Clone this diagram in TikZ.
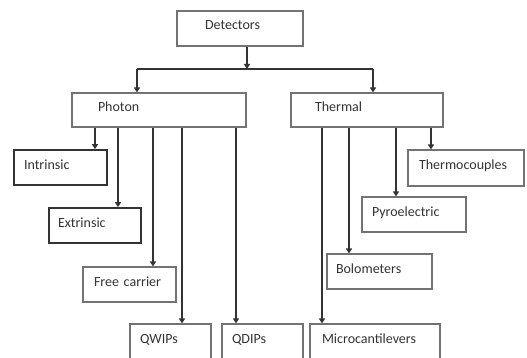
\documentclass[tikz,border=0pt]{standalone}
\usepackage{fontspec}
\setmainfont{Carlito}
\usetikzlibrary{arrows.meta}
\tikzset{
  box/.style={draw=black!55, line width=1.1pt, rectangle, inner ysep=0pt,
    align=left, text=black!80, text depth=6pt, font=\fontsize{14}{16}\selectfont},
  boldbox/.style={box, draw=black!80, line width=1.7pt},
  arr/.style={draw=black!80, line width=1.3pt, -{Triangle[length=5pt,width=6pt]}},
  conn/.style={draw=black!80, line width=1.3pt}
}
\begin{document}
\begin{tikzpicture}[x=1pt,y=-1pt]
\useasboundingbox (0,0) rectangle (527,358);
\clip (0,0) rectangle (527,358);
% boxes
\node[box, inner xsep=28pt, text width=70pt, minimum height=35pt] (det) at (240,28.5) {Detectors};
\node[box, inner xsep=26pt, text width=122pt, minimum height=34pt] (photon) at (159,110) {Photon};
\node[box, inner xsep=24pt, text width=104pt, minimum height=34pt] (thermal) at (367,110) {Thermal};
\node[boldbox, inner xsep=10pt, text width=73pt, minimum height=35pt] (intr) at (60.5,167.5) {Intrinsic};
\node[boldbox, inner xsep=9pt, text width=74pt, minimum height=35pt] (extr) at (95,225.5) {Extrinsic};
\node[box, inner xsep=11pt, text width=71pt, minimum height=35pt] (free) at (129.5,284.5) {Free carrier};
\node[box, inner xsep=10pt, text width=61pt, minimum height=35pt] (qwip) at (170.5,341.5) {QWIPs};
\node[box, inner xsep=10pt, text width=61pt, minimum height=35pt] (qdip) at (262.5,341.5) {QDIPs};
\node[box, inner xsep=12pt, text width=106pt, minimum height=35pt] (micro) at (375,341.5) {Microcantilevers};
\node[box, inner xsep=11pt, text width=94pt, minimum height=36pt] (tc) at (466,168) {Thermocouples};
\node[box, inner xsep=10pt, text width=84pt, minimum height=35pt] (pyro) at (414,214.5) {Pyroelectric};
\node[box, inner xsep=9pt, text width=87pt, minimum height=35pt] (bolo) at (379.5,271.5) {Bolometers};
% top connectors
\coordinate (j) at (247,69);
\coordinate (jl) at (137,69);
\coordinate (jr) at (373,69);
\draw[arr] (j |- det.south) -- (j);
\draw[conn] (jl) -- (jr);
\draw[arr] (jl) -- (jl |- photon.north);
\draw[arr] (jr) -- (jr |- thermal.north);
% photon children
\draw[arr] (95,0 |- photon.south) -- (95,0 |- intr.north);
\draw[arr] (118,0 |- photon.south) -- (118,0 |- extr.north);
\draw[arr] (153,0 |- photon.south) -- (153,0 |- free.north);
\draw[arr] (182,0 |- photon.south) -- (182,0 |- qwip.north);
\draw[arr] (236,0 |- photon.south) -- (236,0 |- qdip.north);
% thermal children
\draw[arr] (431,0 |- thermal.south) -- (431,0 |- tc.north);
\draw[arr] (396,0 |- thermal.south) -- (396,0 |- pyro.north);
\draw[arr] (349,0 |- thermal.south) -- (349,0 |- bolo.north);
\draw[arr] (322,0 |- thermal.south) -- (322,0 |- micro.north);
\end{tikzpicture}
\end{document}
